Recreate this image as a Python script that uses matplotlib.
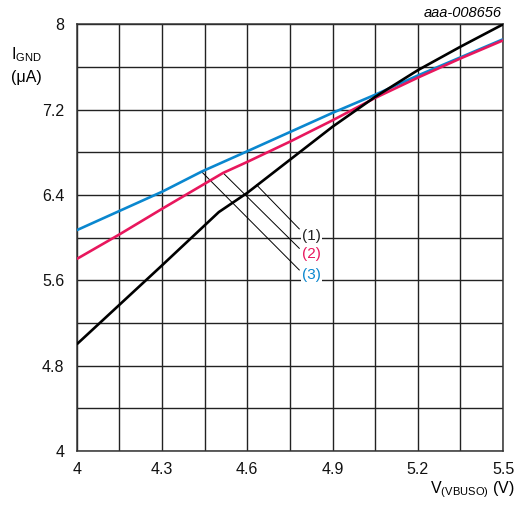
import matplotlib
matplotlib.use('Agg')
import matplotlib.pyplot as plt
import numpy as np

plt.rcParams['font.family'] = ['Liberation Sans', 'DejaVu Sans']
plt.rcParams['mathtext.fontset'] = 'custom'
plt.rcParams['mathtext.rm'] = 'Liberation Sans'

# ── Data ──────────────────────────────────────────────────────────────────────
v1 = [4.0, 4.15, 4.3, 4.5, 4.6, 4.75, 4.9, 5.05, 5.2, 5.35, 5.5]
i1 = [5.00, 5.37, 5.74, 6.24, 6.42, 6.73, 7.04, 7.32, 7.57, 7.79, 8.00]

v2 = [4.0, 4.15, 4.3, 4.515, 4.6, 4.75, 4.9, 5.05, 5.2, 5.35, 5.5]
i2 = [5.80, 6.03, 6.27, 6.607, 6.71, 6.90, 7.10, 7.31, 7.50, 7.68, 7.85]

v3 = [4.0, 4.15, 4.3, 4.44, 4.6, 4.75, 4.9, 5.05, 5.2, 5.35, 5.5]
i3 = [6.07, 6.25, 6.43, 6.62, 6.81, 6.99, 7.17, 7.34, 7.52, 7.69, 7.86]

LABELS = ['(1)', '(2)', '(3)']
COLORS = ['#000000', '#E8175D', '#0A87CF']
TEXT_COLORS = ['#222222', '#E8175D', '#0A87CF']
# leader lines: (start on curve) -> (end near label)
LEAD_START = [(4.633, 6.494), (4.515, 6.607), (4.439, 6.619)]
LEAD_END   = [(4.783, 6.082), (4.783, 5.900), (4.783, 5.697)]
LABEL_POS  = [(4.826, 6.02), (4.826, 5.85), (4.826, 5.65)]

x_ticks = [4, 4.3, 4.6, 4.9, 5.2, 5.5]
y_ticks = [4, 4.8, 5.6, 6.4, 7.2, 8]
x_tick_labels = ['4', '4.3', '4.6', '4.9', '5.2', '5.5']
y_tick_labels = ['4', '4.8', '5.6', '6.4', '7.2', '8']

# ── Plot ──────────────────────────────────────────────────────────────────────
fig = plt.figure(figsize=(5.22, 5.07), dpi=100)
ax = fig.add_axes([0.147, 0.1105, 0.8167, 0.8415])

for vx, iy, c in [(v1, i1, COLORS[0]), (v2, i2, COLORS[1]), (v3, i3, COLORS[2])][::-1]:
    ax.plot(vx, iy, color=c, linewidth=1.9, solid_capstyle='butt', zorder=3)

for (x0, y0), (x1, y1) in zip(LEAD_START, LEAD_END):
    ax.plot([x0, x1], [y0, y1], color='black', linewidth=0.7, zorder=2)

for (lx, ly), lbl, c in zip(LABEL_POS, LABELS, TEXT_COLORS):
    ax.text(lx, ly, lbl, color=c, fontsize=11, ha='center', va='center', zorder=4,
            bbox=dict(facecolor='white', edgecolor='none', pad=0.5))

ax.set_xlim(4, 5.5)
ax.set_ylim(4, 8)
ax.set_xticks(np.linspace(4, 5.5, 11), minor=True)
ax.set_yticks(np.linspace(4, 8, 11), minor=True)
ax.set_xticks(x_ticks)
ax.set_yticks(y_ticks)
ax.set_xticklabels(x_tick_labels)
ax.set_yticklabels(y_tick_labels)
ax.tick_params(which='both', length=0, labelsize=11.5, colors='#111111')
ax.tick_params(axis='x', pad=8)
ax.tick_params(axis='y', pad=9)
ax.grid(which='both', color='#222222', linewidth=1.0)
ax.set_axisbelow(True)
for spine in ax.spines.values():
    spine.set_color('#333333')
    spine.set_linewidth(1.1)

fig.text(0.962, 0.974, 'aaa-008656', fontsize=10.5, style='italic', ha='right', va='center')
fig.text(0.022, 0.893, r'I$_{\mathregular{GND}}$', fontsize=11.5, ha='left', va='center')
fig.text(0.022, 0.848, '(μA)', fontsize=11.5, ha='left', va='center')
fig.text(0.987, 0.034, r'V$_{\mathregular{(VBUSO)}}$ (V)', fontsize=11.5, ha='right', va='center')

plt.savefig('out.png', dpi=100)
plt.close()
